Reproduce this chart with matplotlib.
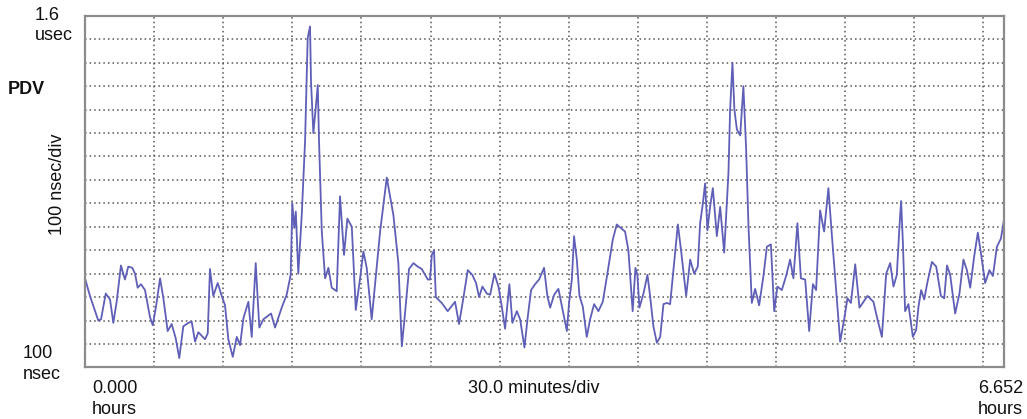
import numpy as np
import matplotlib
matplotlib.use('Agg')
import matplotlib.pyplot as plt

plt.rcParams['font.family'] = ['Liberation Sans', 'DejaVu Sans']

# PDV trace (time in hours, value in nsec)
hours = [
    0.000, 0.036, 0.096, 0.116, 0.150, 0.181, 0.205, 0.229, 0.260, 0.289,
    0.313, 0.342, 0.362, 0.381, 0.405, 0.434, 0.470, 0.490, 0.514, 0.543,
    0.567, 0.598, 0.627, 0.656, 0.682, 0.711, 0.747, 0.772, 0.796, 0.820,
    0.844, 0.868, 0.888, 0.904, 0.928, 0.960, 0.989, 1.013, 1.037, 1.069,
    1.098, 1.122, 1.146, 1.182, 1.206, 1.235, 1.261, 1.290, 1.346, 1.375,
    1.423, 1.459, 1.488, 1.500, 1.514, 1.525, 1.543, 1.568, 1.592, 1.611,
    1.628, 1.635, 1.652, 1.669, 1.684, 1.693, 1.713, 1.737, 1.761, 1.785,
    1.821, 1.845, 1.874, 1.898, 1.930, 1.959, 1.990, 2.014, 2.038, 2.074,
    2.135, 2.183, 2.231, 2.267, 2.292, 2.315, 2.344, 2.376, 2.407, 2.436,
    2.480, 2.496, 2.509, 2.525, 2.538, 2.581, 2.624, 2.677, 2.706, 2.737,
    2.769, 2.802, 2.829, 2.851, 2.875, 2.907, 2.931, 2.962, 2.991, 3.015,
    3.039, 3.070, 3.092, 3.124, 3.148, 3.179, 3.203, 3.227, 3.256, 3.285,
    3.321, 3.345, 3.365, 3.394, 3.425, 3.457, 3.486, 3.502, 3.522, 3.538,
    3.558, 3.577, 3.601, 3.630, 3.654, 3.683, 3.714, 3.746, 3.779, 3.818,
    3.847, 3.876, 3.907, 3.931, 3.962, 3.982, 3.996, 4.011, 4.040, 4.069,
    4.088, 4.112, 4.137, 4.161, 4.185, 4.209, 4.233, 4.262, 4.289, 4.313,
    4.349, 4.378, 4.407, 4.433, 4.450, 4.470, 4.486, 4.503, 4.522, 4.542,
    4.571, 4.595, 4.624, 4.655, 4.667, 4.684, 4.698, 4.716, 4.740, 4.763,
    4.783, 4.800, 4.824, 4.848, 4.877, 4.908, 4.933, 4.962, 4.986, 5.009,
    5.041, 5.072, 5.101, 5.125, 5.154, 5.179, 5.210, 5.239, 5.266, 5.289,
    5.318, 5.347, 5.378, 5.403, 5.434, 5.463, 5.492, 5.516, 5.541, 5.572,
    5.603, 5.632, 5.661, 5.704, 5.729, 5.765, 5.796, 5.825, 5.849, 5.873,
    5.892, 5.904, 5.917, 5.933, 5.957, 5.989, 6.013, 6.030, 6.049, 6.071,
    6.095, 6.127, 6.158, 6.192, 6.216, 6.236, 6.259, 6.295, 6.326, 6.355,
    6.380, 6.404, 6.433, 6.459, 6.481, 6.512, 6.543, 6.568, 6.597, 6.626,
    6.650,
]
pdv_nsec = [
    480, 405, 300, 305, 415, 390, 290, 380, 535, 475,
    530, 525, 500, 440, 455, 430, 315, 280, 360, 480,
    395, 255, 285, 225, 140, 275, 290, 295, 210, 250,
    235, 220, 245, 520, 405, 460, 405, 365, 220, 145,
    230, 195, 310, 380, 230, 545, 270, 305, 330, 270,
    355, 410, 495, 800, 695, 765, 500, 750, 1065, 1505,
    1555, 1320, 1100, 1205, 1305, 1065, 680, 480, 525, 440,
    425, 830, 580, 735, 700, 345, 480, 595, 525, 305,
    680, 910, 750, 545, 190, 330, 520, 545, 530, 520,
    475, 475, 580, 600, 400, 375, 340, 380, 285, 395,
    515, 495, 460, 400, 445, 415, 410, 500, 445, 360,
    265, 455, 290, 340, 305, 185, 315, 430, 455, 475,
    525, 405, 355, 410, 435, 340, 255, 375, 475, 660,
    560, 405, 360, 230, 305, 370, 340, 380, 500, 645,
    710, 695, 680, 600, 340, 525, 495, 355, 415, 495,
    405, 275, 205, 230, 370, 375, 370, 545, 710, 595,
    405, 560, 500, 530, 715, 800, 885, 685, 785, 865,
    660, 785, 590, 930, 1200, 1400, 1200, 1115, 1090, 1300,
    1030, 700, 375, 435, 365, 490, 615, 625, 340, 445,
    430, 490, 560, 480, 715, 480, 475, 255, 455, 430,
    770, 680, 865, 665, 430, 210, 305, 395, 375, 540,
    355, 380, 405, 380, 315, 230, 500, 545, 445, 495,
    700, 810, 630, 340, 370, 230, 260, 360, 430, 390,
    465, 550, 530, 405, 395, 535, 495, 330, 415, 560,
    515, 440, 575, 675, 590, 460, 515, 490, 615, 650,
    735,
]

x_grid = [0.5, 1.0, 1.5, 2.0, 2.5, 3.0, 3.5, 4.0, 4.5, 5.0, 5.5, 6.0, 6.5]
y_grid = [200, 300, 400, 500, 600, 700, 800, 900, 1000, 1100, 1200, 1300, 1400, 1500]

W, H = 1027, 419
fig = plt.figure(figsize=(W / 100, H / 100), dpi=100)
ax = fig.add_axes([85 / W, 51.6 / H, 919.5 / W, 351.5 / H])

ax.plot(hours, pdv_nsec, color='#5f5fb8', lw=1.3)

ax.set_xlim(0, 6.652)
ax.set_ylim(100, 1600)
ax.set_xticks(x_grid)
ax.set_yticks(y_grid)
ax.tick_params(length=0, labelbottom=False, labelleft=False)
ax.grid(True, color='#555555', linestyle=(0, (1, 2)), lw=1.1)
for s in ax.spines.values():
    s.set_color('#8c8c8c')
    s.set_linewidth(1.6)


# labels placed in figure pixels (from top-left)
def label(x, y, s, **kw):
    fig.text(x / W, 1 - y / H, s, fontsize=13, color='#111111', **kw)


label(35, 15, '1.6', va='center')
label(35, 35, 'usec', va='center')
label(8, 90, 'PDV', va='center', fontweight='bold')
label(58, 184, '100 nsec/div', va='center', ha='center', rotation=90)
label(23, 353, '100', va='center')
label(23, 374, 'nsec', va='center')
label(92, 388, '0.000', va='center')
label(92, 409, 'hours', va='center')
label(534, 388, '30.0 minutes/div', va='center', ha='center')
label(978, 388, '6.652', va='center')
label(978, 409, 'hours', va='center')

fig.savefig('out.png', dpi=100)
